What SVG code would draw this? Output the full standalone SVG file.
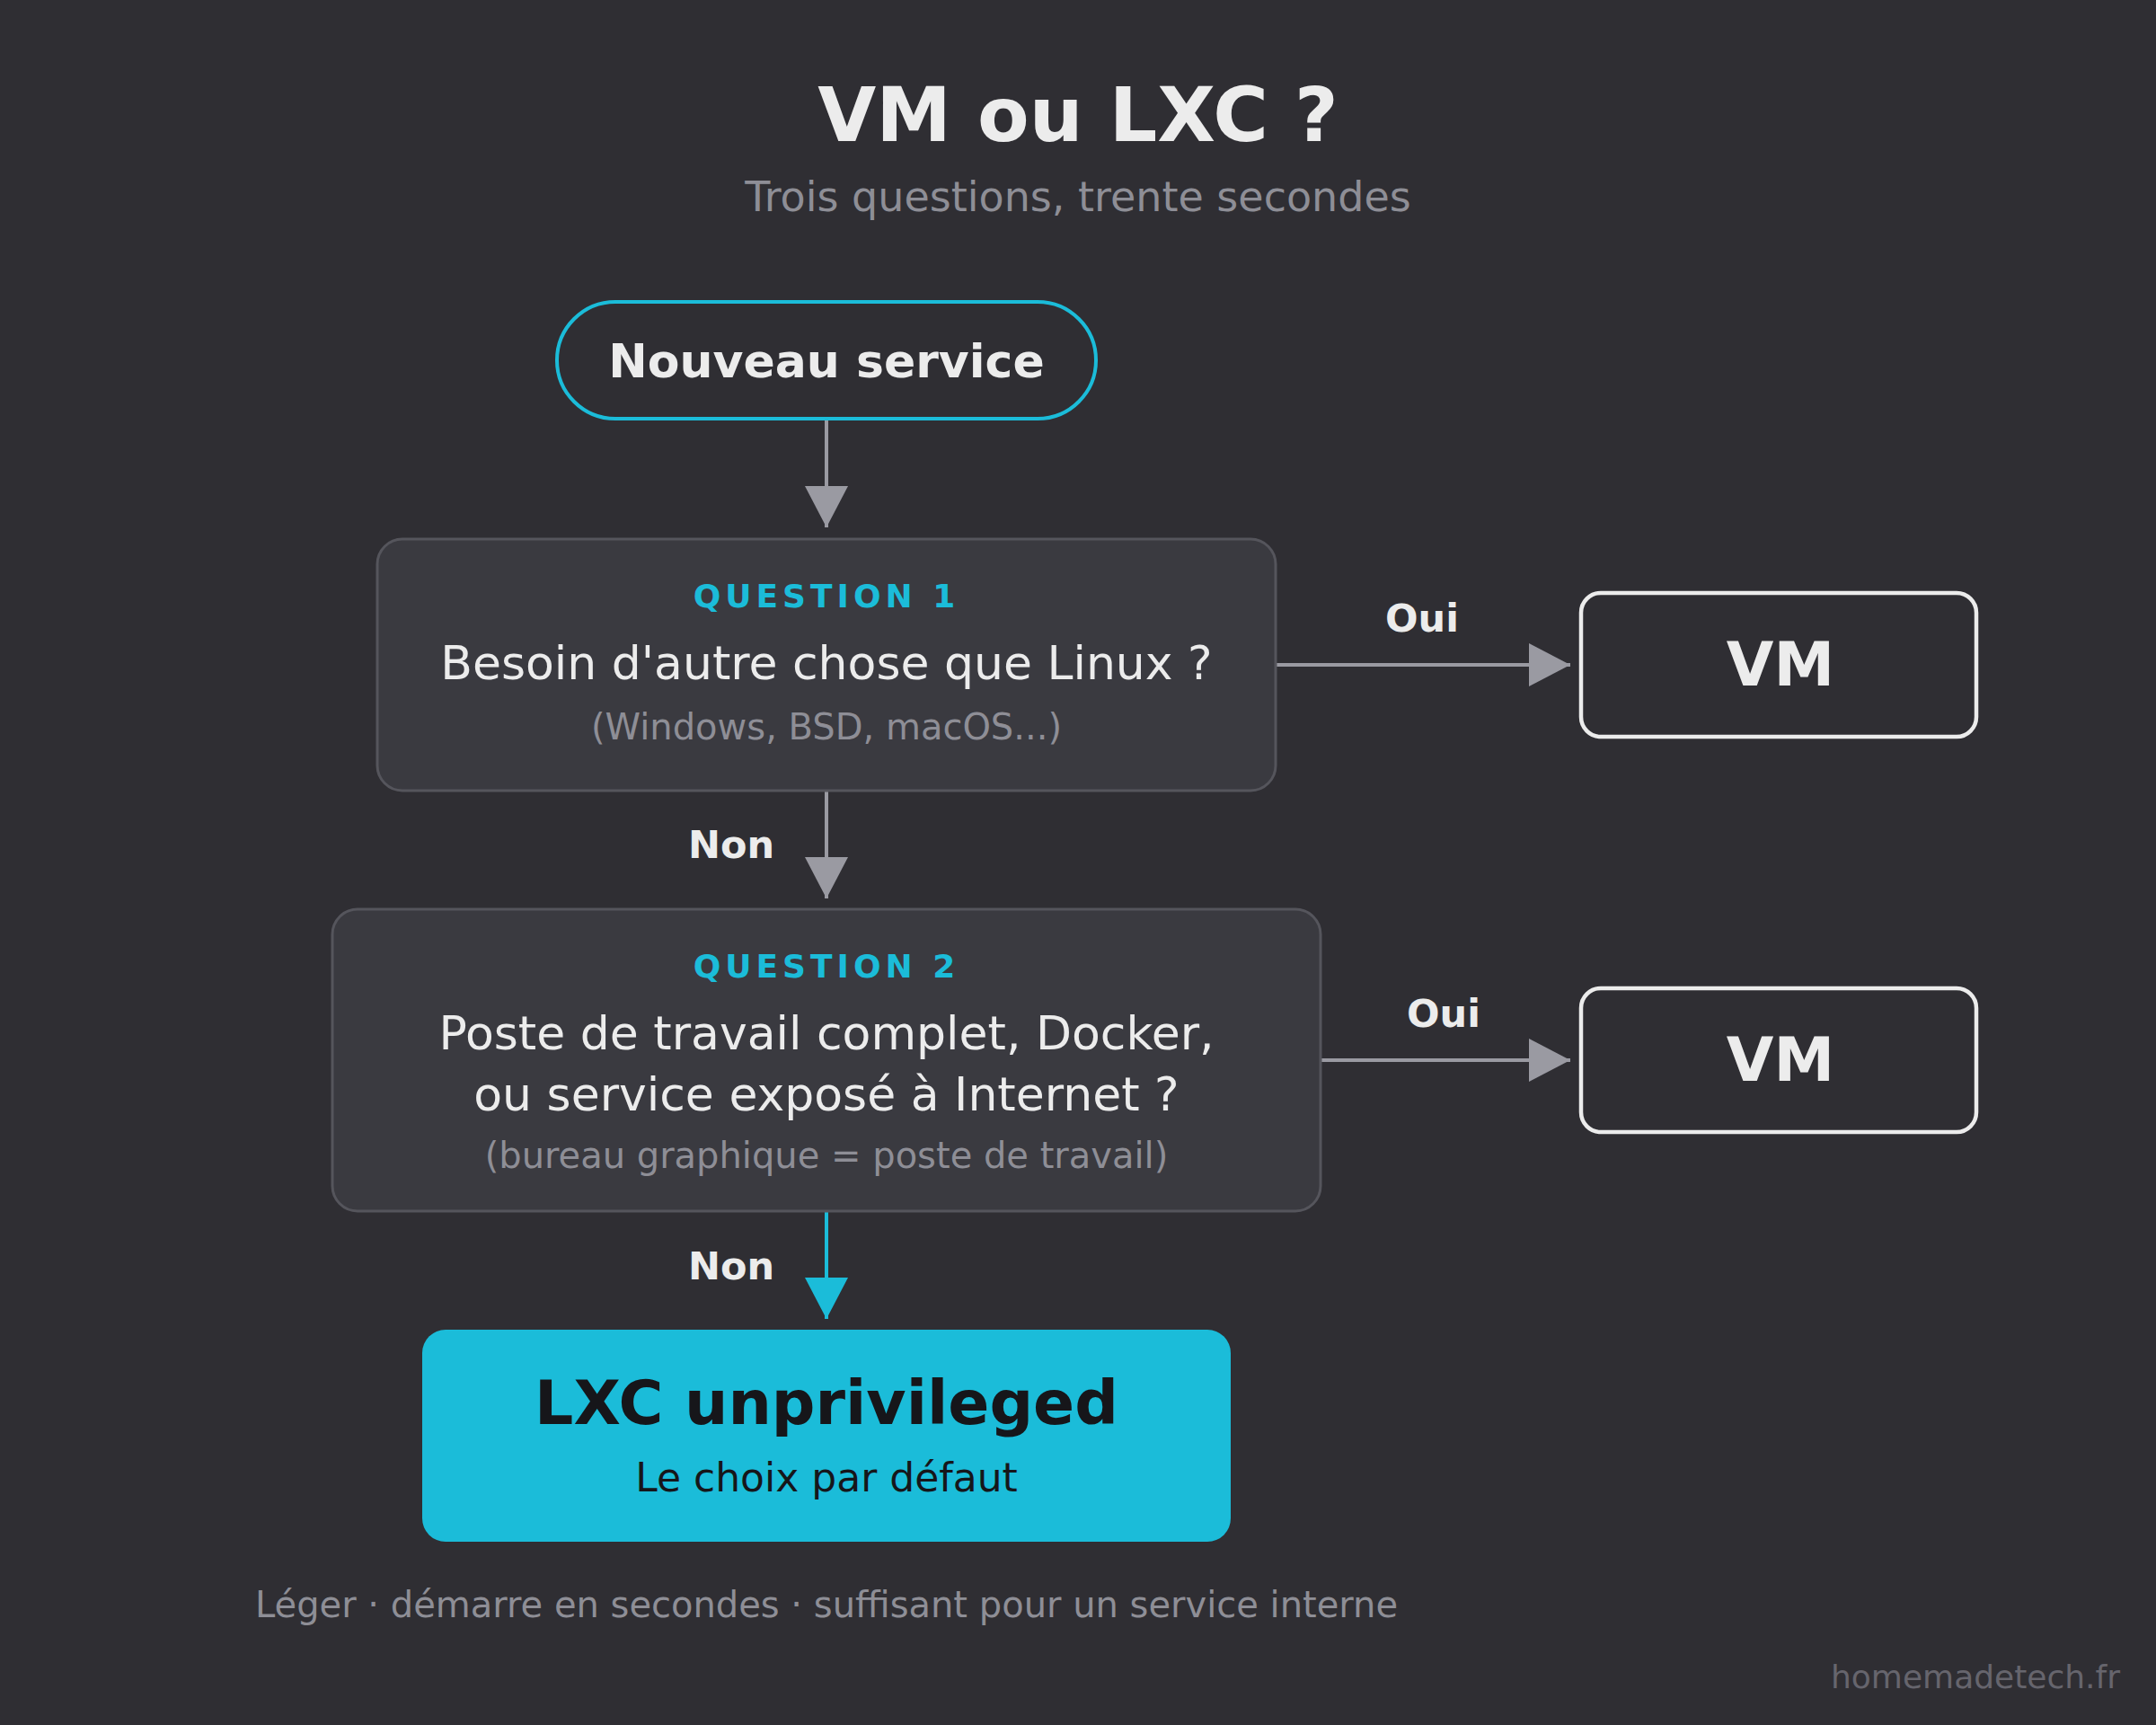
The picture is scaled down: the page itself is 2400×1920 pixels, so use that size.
<svg xmlns="http://www.w3.org/2000/svg" width="2400" height="1920" viewBox="0 0 2400 1920">
<defs>
<style>
text{font-family:"DejaVu Sans","Liberation Sans",sans-serif;text-anchor:middle}
.title{font-size:84px;font-weight:bold;fill:#ececec}
.sub{font-size:46px;fill:#8e8e96}
.q{fill:#3a3a40;stroke:#55555c;stroke-width:3}
.qlab{font-size:36px;font-weight:bold;fill:#1bbcd9;letter-spacing:5px}
.qtxt{font-size:52px;fill:#ececec}
.qhint{font-size:40px;fill:#8e8e96}
.lab{font-size:43px;font-weight:bold;fill:#ececec}
.vm{fill:none;stroke:#ececec;stroke-width:4.5}
.vmt{font-size:68px;font-weight:bold;fill:#ececec}
.edge{stroke:#9a9aa2;stroke-width:4;fill:none}
.edgec{stroke:#1bbcd9;stroke-width:4;fill:none}
</style>
<marker id="ag" viewBox="0 0 46 48" refX="46" refY="24" markerWidth="46" markerHeight="48" markerUnits="userSpaceOnUse" orient="auto"><path d="M0,0 L46,24 L0,48 Z" fill="#9a9aa2"/></marker>
<marker id="ac" viewBox="0 0 46 48" refX="46" refY="24" markerWidth="46" markerHeight="48" markerUnits="userSpaceOnUse" orient="auto"><path d="M0,0 L46,24 L0,48 Z" fill="#1bbcd9"/></marker>
</defs>
<rect width="2400" height="1920" fill="#2f2e33"/>
<text class="title" x="1200" y="157">VM ou LXC ?</text>
<text class="sub" x="1200" y="235">Trois questions, trente secondes</text>

<g id="connectors">
<line class="edge" x1="920" y1="468" x2="920" y2="587" marker-end="url(#ag)"/>
<line class="edge" x1="1420" y1="740" x2="1748" y2="740" marker-end="url(#ag)"/>
<text class="lab" x="1583" y="703">Oui</text>
<line class="edge" x1="920" y1="880" x2="920" y2="1000" marker-end="url(#ag)"/>
<text class="lab" x="814" y="955">Non</text>
<line class="edge" x1="1470" y1="1180" x2="1748" y2="1180" marker-end="url(#ag)"/>
<text class="lab" x="1607" y="1143">Oui</text>
<line class="edgec" x1="920" y1="1348" x2="920" y2="1468" marker-end="url(#ac)"/>
<text class="lab" x="814" y="1424">Non</text>
</g>

<g id="start">
<rect x="620" y="336" width="600" height="130" rx="65" fill="none" stroke="#1bbcd9" stroke-width="4"/>
<text x="920" y="420" font-size="52" font-weight="bold" fill="#ececec">Nouveau service</text>
</g>

<g id="q1">
<rect class="q" x="420" y="600" width="1000" height="280" rx="28"/>
<text class="qlab" x="920" y="676">QUESTION 1</text>
<text class="qtxt" x="920" y="756">Besoin d'autre chose que Linux ?</text>
<text class="qhint" x="920" y="823">(Windows, BSD, macOS...)</text>
</g>

<g id="vm1">
<rect class="vm" x="1760" y="660" width="440" height="160" rx="22"/>
<text class="vmt" x="1982" y="763">VM</text>
</g>

<g id="q2">
<rect class="q" x="370" y="1012" width="1100" height="336" rx="28"/>
<text class="qlab" x="920" y="1088">QUESTION 2</text>
<text class="qtxt" x="920" y="1168">Poste de travail complet, Docker,</text>
<text class="qtxt" x="920" y="1236">ou service exposé à Internet ?</text>
<text class="qhint" x="920" y="1300">(bureau graphique = poste de travail)</text>
</g>

<g id="vm2">
<rect class="vm" x="1760" y="1100" width="440" height="160" rx="22"/>
<text class="vmt" x="1982" y="1203">VM</text>
</g>

<g id="lxc">
<rect x="470" y="1480" width="900" height="236" rx="26" fill="#1bbcd9"/>
<text x="920" y="1585" font-size="68" font-weight="bold" fill="#16161a">LXC unprivileged</text>
<text x="920" y="1660" font-size="44" fill="#16161a">Le choix par défaut</text>
</g>

<text x="920" y="1800" font-size="40" fill="#8e8e96">Léger · démarre en secondes · suffisant pour un service interne</text>
<text x="2360" y="1879" font-size="36" fill="#66656d" style="text-anchor:end">homemadetech.fr</text>
</svg>
